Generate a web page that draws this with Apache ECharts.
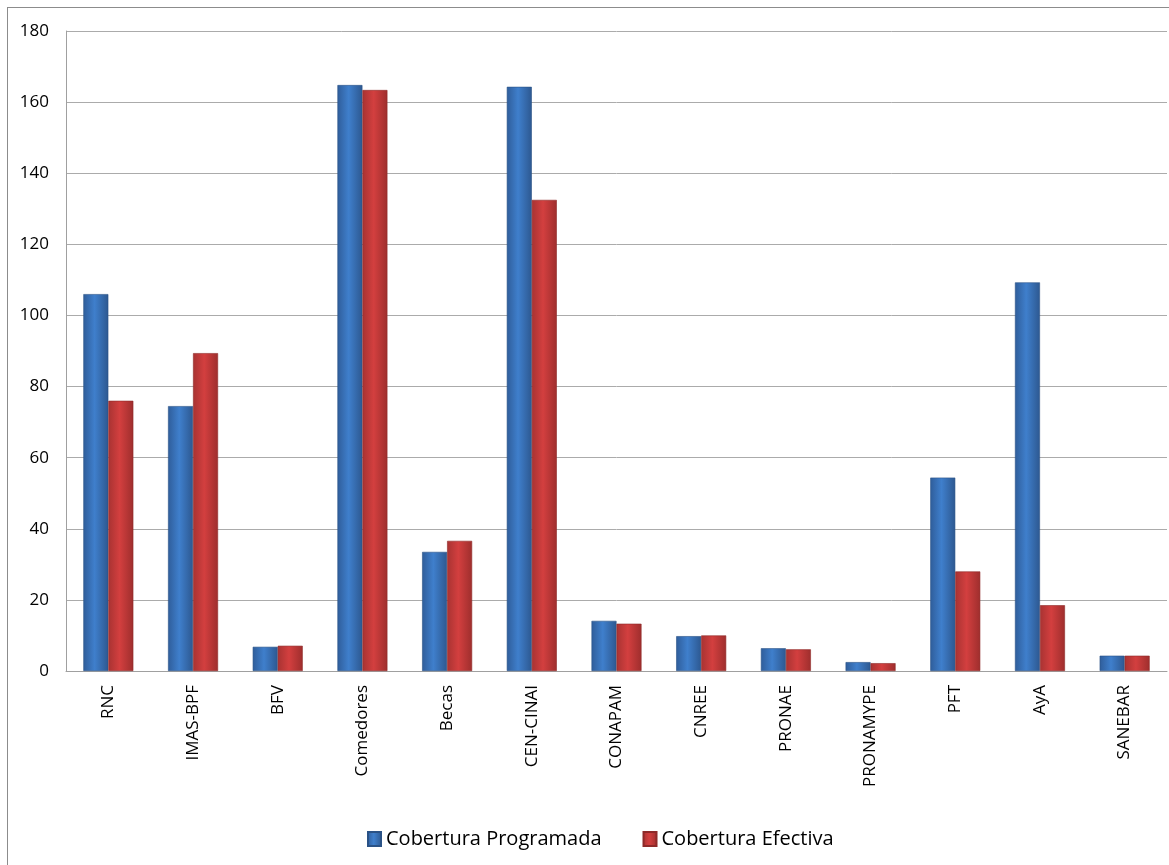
<!DOCTYPE html>
<html>
<head>
<meta charset="utf-8">
<script src="https://cdn.jsdelivr.net/npm/echarts@6/dist/echarts.min.js"></script>
<style>
  html, body { margin: 0; padding: 0; background: #fff; }
  #frame { position: absolute; left: 7px; top: 7px; width: 1170px; height: 870px; border: 1px solid #8c8c8c; }
  #chart { position: absolute; left: 0; top: 0; width: 1169px; height: 865px; }
</style>
</head>
<body>
<div id="frame"></div>
<div id="chart"></div>
<script>
// Programs and their coverage figures
const categories = ['RNC', 'IMAS-BPF', 'BFV', 'Comedores', 'Becas', 'CEN-CINAI', 'CONAPAM',
  'CNREE', 'PRONAE', 'PRONAMYPE', 'PFT', 'AyA', 'SANEBAR'];
const programada = [106.0, 74.5, 6.8, 164.8, 33.5, 164.3, 14.1, 9.8, 6.4, 2.5, 54.4, 109.3, 4.3];
const efectiva = [76.0, 89.4, 7.1, 163.4, 36.6, 132.5, 13.3, 10.0, 6.1, 2.2, 28.0, 18.5, 4.3];
const seriesNames = ['Cobertura Programada', 'Cobertura Efectiva'];
const yTicks = { min: 0, max: 180, interval: 20 };

const font = '"Open Sans", "Noto Sans", sans-serif';

function barGradient(edge, mid, edge2) {
  return new echarts.graphic.LinearGradient(0, 0, 1, 0, [
    { offset: 0, color: edge },
    { offset: 0.45, color: mid },
    { offset: 1, color: edge2 }
  ]);
}

const chart = echarts.init(document.getElementById('chart'), null, { renderer: 'canvas' });
chart.setOption({
  animation: false,
  backgroundColor: 'transparent',
  grid: { left: 66, right: 2, top: 31, bottom: 194, containLabel: false },
  legend: {
    left: 362,
    top: 824,
    itemWidth: 13,
    itemHeight: 14,
    itemGap: 41,
    icon: 'rect',
    textStyle: { fontFamily: font, fontSize: 20, color: '#000' },
    data: seriesNames
  },
  xAxis: {
    type: 'category',
    data: categories,
    axisLine: { lineStyle: { color: '#a0a0a0', width: 1 } },
    axisTick: { show: false },
    axisLabel: {
      rotate: 90,
      margin: 14,
      fontFamily: font,
      fontSize: 17,
      color: '#000',
      interval: 0
    }
  },
  yAxis: {
    type: 'value',
    min: yTicks.min,
    max: yTicks.max,
    interval: yTicks.interval,
    axisLine: { show: true, lineStyle: { color: '#a0a0a0', width: 1 } },
    axisTick: { show: false },
    splitLine: { lineStyle: { color: '#ababab', width: 1 } },
    axisLabel: { fontFamily: font, fontSize: 17, color: '#000', margin: 17 }
  },
  series: [
    {
      name: seriesNames[0],
      type: 'bar',
      data: programada,
      barWidth: 25,
      barGap: '0%',
      itemStyle: {
        color: barGradient('#2f5d9a', '#3f7fcc', '#2d5890'),
        borderColor: '#2a5286',
        borderWidth: 0.6
      }
    },
    {
      name: seriesNames[1],
      type: 'bar',
      data: efectiva,
      barWidth: 25,
      barGap: '0%',
      itemStyle: {
        color: barGradient('#a83332', '#d33f3f', '#9e2e2d'),
        borderColor: '#8e2a29',
        borderWidth: 0.6
      }
    }
  ]
});
</script>
</body>
</html>
